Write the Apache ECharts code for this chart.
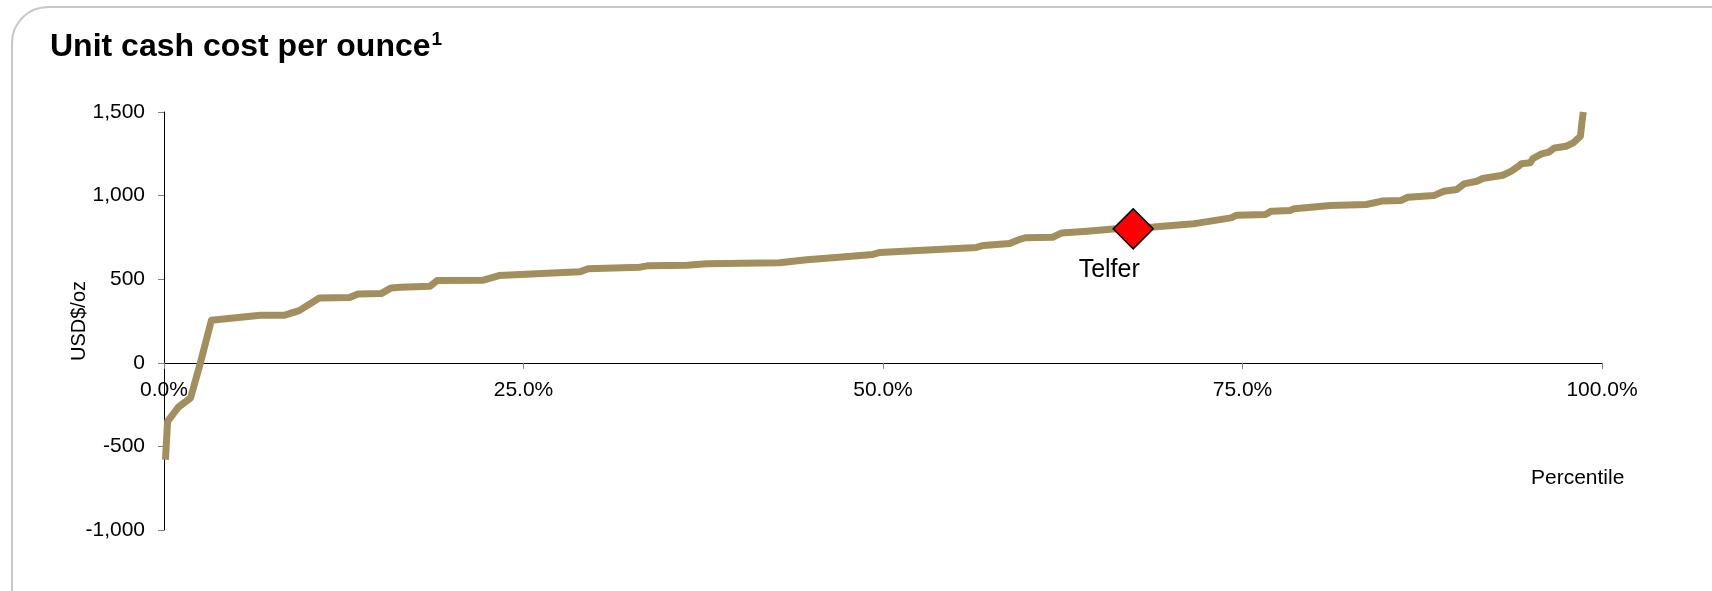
<!DOCTYPE html>
<html>
<head>
<meta charset="utf-8">
<script src="https://cdn.jsdelivr.net/npm/echarts@6/dist/echarts.min.js"></script>
<style>
html,body{margin:0;padding:0;background:#fff;}
#chart{width:1712px;height:591px;}
</style>
</head>
<body>
<div id="chart"></div>
<script>
// Cost curve: percentile (%) and unit cash cost (USD$/oz)
var percentiles = [0.1, 0.25, 1.0, 1.85, 2.5, 3.3, 6.7, 8.4, 9.4, 10.8, 12.9, 13.5, 15.1, 15.8, 16.4, 18.5, 19.0, 22.2, 23.3, 28.9, 29.5, 33.1, 33.6, 36.4, 37.7, 42.8, 44.7, 46.5, 49.3, 49.8, 52.1, 56.5, 57.0, 58.8, 59.4, 59.9, 61.8, 62.4, 64.2, 66.0, 68.8, 71.6, 72.0, 74.2, 74.6, 76.6, 77.0, 78.3, 78.6, 81.1, 83.6, 84.7, 86.0, 86.5, 88.3, 89.0, 89.9, 90.4, 91.3, 91.7, 93.1, 93.7, 94.2, 94.4, 95.0, 95.2, 95.8, 96.3, 96.7, 97.5, 98.0, 98.5, 98.6, 98.7];
var costs = [-580, -350, -265, -210, -10, 255, 285, 285, 312, 388, 390, 412, 414, 448, 452, 458, 492, 494, 522, 544, 563, 572, 580, 584, 592, 598, 616, 628, 648, 660, 670, 690, 702, 713, 735, 748, 751, 776, 787, 800, 812, 832, 837, 867, 883, 887, 907, 911, 921, 941, 947, 967, 971, 990, 1000, 1026, 1036, 1070, 1086, 1102, 1122, 1146, 1176, 1190, 1196, 1222, 1250, 1260, 1285, 1295, 1315, 1355, 1435, 1500];
var highlightName = ['Telfer'];
var highlightPct = [67.4];
var highlightCost = [801];
var xTicks = [0, 25, 50, 75, 100];
var yTicks = [-1000, -500, 0, 500, 1000, 1500];

var curve = percentiles.map(function (p, i) { return [p, costs[i]]; });
var marks = highlightPct.map(function (p, i) { return { name: highlightName[i], value: [p, highlightCost[i]] }; });

var FONT = '"Liberation Sans", Arial, sans-serif';
var GRID_TOP = 112, GRID_BOTTOM = 61, H = 591;
var gridH = H - GRID_TOP - GRID_BOTTOM;
var yMin = yTicks[0], yMax = yTicks[yTicks.length - 1];
// shift the x axis (line, ticks, labels) up from the grid bottom to the zero value
var zeroOffset = -gridH * (0 - yMin) / (yMax - yMin);

var chart = echarts.init(document.getElementById('chart'), null, { renderer: 'canvas' });
chart.setOption({
  animation: false,
  backgroundColor: '#ffffff',
  textStyle: { fontFamily: FONT, color: '#000' },
  title: {
    text: '{t|Unit cash cost per ounce}{s|1}',
    left: 50,
    top: 30,
    padding: 0,
    textStyle: {
      fontFamily: FONT, fontSize: 32, fontWeight: 'bold', color: '#000',
      rich: {
        t: { fontFamily: FONT, fontSize: 32, fontWeight: 'bold', color: '#000', lineHeight: 34 },
        s: { fontFamily: FONT, fontSize: 19, fontWeight: 'bold', color: '#000', verticalAlign: 'top', lineHeight: 34, padding: [0, 0, 0, 1] }
      }
    }
  },
  graphic: [{
    type: 'rect',
    z: -10,
    silent: true,
    shape: { x: 12, y: 7, width: 1800, height: 700, r: [36, 0, 0, 0] },
    style: { fill: 'none', stroke: '#c8c8c8', lineWidth: 2 }
  }],
  grid: { left: 164, right: 110, top: GRID_TOP, bottom: GRID_BOTTOM, containLabel: false },
  xAxis: {
    type: 'value',
    min: xTicks[0],
    max: xTicks[xTicks.length - 1],
    interval: 25,
    offset: zeroOffset,
    name: 'Percentile',
    nameLocation: 'end',
    nameGap: -71,
    nameMoveOverlap: false,
    nameTextStyle: { fontFamily: FONT, fontSize: 21, color: '#000', align: 'left', verticalAlign: 'top', padding: [105, 0, 0, 0] },
    axisLine: { onZero: false, lineStyle: { color: '#000', width: 1 } },
    axisTick: { show: true, length: 6, lineStyle: { color: '#808080' } },
    axisLabel: {
      fontFamily: FONT, fontSize: 21, color: '#000', margin: 17,
      formatter: function (v) { return v.toFixed(1) + '%'; }
    },
    splitLine: { show: false }
  },
  yAxis: {
    type: 'value',
    min: yMin,
    max: yMax,
    interval: 500,
    name: 'USD$/oz',
    nameLocation: 'middle',
    nameGap: 75,
    nameMoveOverlap: false,
    nameTextStyle: { fontFamily: FONT, fontSize: 20, color: '#000' },
    axisLine: { show: true, lineStyle: { color: '#000', width: 1 } },
    axisTick: { show: true, length: 6, lineStyle: { color: '#808080' } },
    axisLabel: {
      fontFamily: FONT, fontSize: 21, color: '#000', margin: 19,
      formatter: function (v) { return v.toLocaleString('en-US'); }
    },
    splitLine: { show: false }
  },
  series: [{
    type: 'line',
    data: curve,
    showSymbol: false,
    smooth: false,
    lineStyle: { color: '#A38F5E', width: 7, join: 'round' },
    z: 2
  }, {
    type: 'scatter',
    data: marks,
    symbol: 'diamond',
    symbolSize: 40,
    itemStyle: { color: '#ff0000', borderColor: '#000', borderWidth: 1.5, opacity: 1 },
    label: {
      show: true,
      position: 'inside',
      offset: [-24, 41],
      formatter: '{b}',
      fontFamily: FONT, fontSize: 25, color: '#000', opacity: 1
    },
    z: 5
  }]
});
</script>
</body>
</html>
